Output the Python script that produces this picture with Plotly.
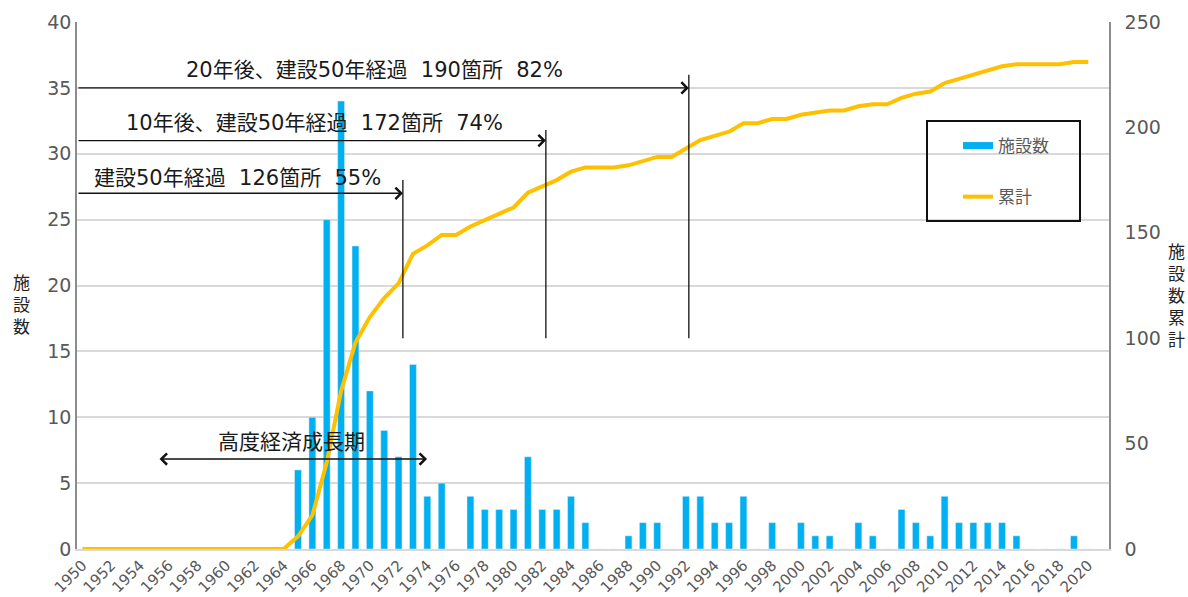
import plotly.graph_objects as go

# ---------------- data ----------------
years = list(range(1950, 2021))
facilities = [0, 0, 0, 0, 0, 0, 0, 0, 0, 0, 0, 0, 0, 0, 0,          # 1950-1964
              6, 10, 25, 34, 23, 12, 9, 7, 14, 4,                  # 1965-1974
              5, 0, 4, 3, 3, 3, 7, 3, 3, 4,                        # 1975-1984
              2, 0, 0, 1, 2, 2, 0, 4, 4, 2,                        # 1985-1994
              2, 4, 0, 2, 0, 2, 1, 1, 0, 2,                        # 1995-2004
              1, 0, 3, 2, 1, 4, 2, 2, 2, 2,                        # 2005-2014
              1, 0, 0, 0, 1, 0]                                    # 2015-2020
cumulative = [0, 0, 0, 0, 0, 0, 0, 0, 0, 0, 0, 0, 0, 0, 0,
              6, 16, 41, 75, 98, 110, 119, 126, 140, 144,
              149, 149, 153, 156, 159, 162, 169, 172, 175, 179,
              181, 181, 181, 182, 184, 186, 186, 190, 194, 196,
              198, 202, 202, 204, 204, 206, 207, 208, 208, 210,
              211, 211, 214, 216, 217, 221, 223, 225, 227, 229,
              230, 230, 230, 230, 231, 231]

milestone_years = [1972.3, 1982.25, 1992.2]
milestone_tops = [28, 31.8, 36]
milestone_arrow_y = [27, 31, 35]
milestone_labels = ["建設50年経過 \u00a0126箇所 \u00a055%",
                    "10年後、建設50年経過 \u00a0172箇所 \u00a074%",
                    "20年後、建設50年経過 \u00a0190箇所 \u00a082%"]
milestone_label_x = [1960.76, 1966.12, 1970.29]
milestone_label_y = [28.16, 32.33, 36.36]
growth_label = "高度経済成長期"
growth_start, growth_end = 1955.26, 1973.98

FONT = "DejaVu Sans, Noto Sans CJK JP, sans-serif"
BLUE = "#00B0F0"
GOLD = "#FFC000"
GRAY = "#595959"
GRID = "#D9D9D9"

# page geometry (body margin removed by the post script)
W, H = 1188, 597
PL, PR, PT, PB = 77, 1109, 22, 549          # plot area in page pixels
L, T, R, B = PL, PT, W - PR, H - PB
pw, ph = PR - PL, PB - PT


def px(p):
    return (p - PL) / pw


def py(p):
    return (PB - p) / ph


fig = go.Figure()
fig.add_trace(go.Bar(x=years, y=facilities, name="施設数", marker_color=BLUE,
                     width=0.48, showlegend=False, yaxis="y"))
fig.add_trace(go.Scatter(x=years, y=cumulative, name="累計", mode="lines",
                         line=dict(color=GOLD, width=4), yaxis="y2",
                         showlegend=False))
# legend entries (line-style symbols as in the reference)
fig.add_trace(go.Scatter(x=[None], y=[None], name="施設数", mode="lines",
                         line=dict(color=BLUE, width=7), legendgroup="a"))
fig.add_trace(go.Scatter(x=[None], y=[None], name="累計", mode="lines",
                         line=dict(color=GOLD, width=4), legendgroup="b"))

shapes = []
annotations = []
for xm, top, ay, lab, lx, ly in zip(milestone_years, milestone_tops, milestone_arrow_y,
                                    milestone_labels, milestone_label_x, milestone_label_y):
    shapes.append(dict(type="line", xref="x", yref="y", x0=xm, x1=xm, y0=16, y1=top,
                       line=dict(color="#111111", width=1.3), layer="above"))
    annotations.append(dict(x=xm, y=ay, ax=1949.62, ay=ay, xref="x", yref="y",
                            axref="x", ayref="y", text="", showarrow=True,
                            arrowhead=4, arrowsize=1.7, arrowwidth=1.3,
                            arrowcolor="#111111"))
    annotations.append(dict(x=lx, y=ly, xref="x", yref="y", text=lab, showarrow=False,
                            font=dict(family=FONT, size=21, color="#1A1A1A"),
                            xanchor="center", yanchor="middle"))

annotations.append(dict(x=growth_end, y=6.83, ax=growth_start, ay=6.83, xref="x", yref="y",
                        axref="x", ayref="y", text="", showarrow=True,
                        arrowhead=4, startarrowhead=4, arrowside="end+start",
                        arrowsize=1.7, startarrowsize=1.7, arrowwidth=1.3,
                        arrowcolor="#111111"))
annotations.append(dict(x=1964.52, y=8.12, xref="x", yref="y", text=growth_label,
                        showarrow=False, font=dict(family=FONT, size=21, color="#1A1A1A"),
                        xanchor="center", yanchor="middle"))

# axis titles (stacked vertical text)
annotations.append(dict(x=px(21), y=py(305), xref="paper", yref="paper",
                        text="施<br>設<br>数", showarrow=False,
                        xanchor="center", yanchor="middle",
                        font=dict(family=FONT, size=17, color="#222222")))
annotations.append(dict(x=px(1176), y=py(296), xref="paper", yref="paper",
                        text="施<br>設<br>数<br>累<br>計", showarrow=False,
                        xanchor="center", yanchor="middle",
                        font=dict(family=FONT, size=17, color="#222222")))

# legend frame
shapes.append(dict(type="rect", xref="paper", yref="paper",
                   x0=px(927), x1=px(1080), y0=py(221), y1=py(121),
                   line=dict(color="#111111", width=2), layer="above"))

fig.update_layout(
    width=W, height=H,
    margin=dict(l=L, r=R, t=T, b=B, autoexpand=False),
    paper_bgcolor="white", plot_bgcolor="white",
    font=dict(family=FONT, color=GRAY),
    shapes=shapes, annotations=annotations,
    legend=dict(x=px(958), y=py(128), xanchor="left", yanchor="top",
                bgcolor="rgba(0,0,0,0)", borderwidth=0,
                font=dict(family=FONT, size=17, color=GRAY),
                traceorder="grouped", tracegroupgap=26, itemwidth=30),
    xaxis=dict(range=[1949.62, 2021.44], tickmode="linear", tick0=1950, dtick=2,
               tickangle=-45, tickfont=dict(family=FONT, size=15, color=GRAY),
               showgrid=False, showline=True, linecolor=GRID, linewidth=1.5,
               zeroline=False, ticks=""),
    yaxis=dict(range=[0, 40], tickmode="linear", tick0=0, dtick=5,
               tickfont=dict(family=FONT, size=19, color=GRAY),
               showgrid=True, gridcolor=GRID, gridwidth=1.5,
               showline=True, linecolor="#8C8C8C", linewidth=1.5,
               zeroline=False, ticks=""),
    yaxis2=dict(range=[0, 250], tickmode="linear", tick0=0, dtick=50, overlaying="y",
                side="right", tickfont=dict(family=FONT, size=19, color=GRAY),
                showgrid=False, showline=True, linecolor="#8C8C8C", linewidth=1.5,
                zeroline=False, ticks="", ticklabelstandoff=10),
)

fig.write_html(
    "out.html",
    config={"displayModeBar": False},
    post_script="document.body.style.margin='0';document.body.style.overflow='hidden';",
)
